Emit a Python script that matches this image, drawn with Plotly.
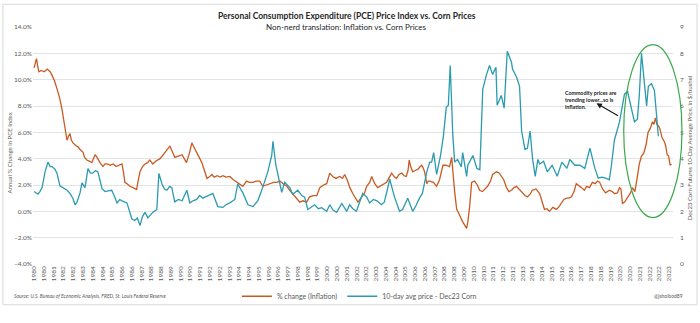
import plotly.graph_objects as go

# Year-over-year % change in the PCE price index (decimal year, %)
pce_years = [
    1980.00, 1980.08, 1980.17, 1980.25, 1980.33, 1980.50, 1980.70, 1980.90, 1981.10, 1981.20,
    1981.40, 1981.57, 1981.75, 1981.90, 1982.10, 1982.25, 1982.35, 1982.45, 1982.55, 1982.66,
    1982.85, 1983.00, 1983.14, 1983.34, 1983.45, 1983.60, 1983.80, 1983.95, 1984.16, 1984.30,
    1984.50, 1984.70, 1984.85, 1985.00, 1985.20, 1985.40, 1985.60, 1985.86, 1986.00, 1986.10,
    1986.20, 1986.35, 1986.54, 1986.75, 1987.00, 1987.10, 1987.23, 1987.40, 1987.57, 1987.75,
    1987.90, 1988.10, 1988.30, 1988.60, 1988.90, 1989.10, 1989.27, 1989.45, 1989.60, 1989.85,
    1990.10, 1990.25, 1990.40, 1990.60, 1990.77, 1990.90, 1991.10, 1991.30, 1991.45, 1991.60,
    1991.80, 1991.95, 1992.13, 1992.30, 1992.50, 1992.70, 1992.90, 1993.10, 1993.36, 1993.60,
    1993.84, 1994.05, 1994.25, 1994.50, 1994.70, 1994.93, 1995.15, 1995.40, 1995.60, 1995.85,
    1996.10, 1996.35, 1996.56, 1996.77, 1997.00, 1997.25, 1997.45, 1997.65, 1997.90, 1998.13,
    1998.35, 1998.60, 1998.80, 1999.05, 1999.30, 1999.50, 1999.75, 1999.97, 2000.18, 2000.38,
    2000.60, 2000.86, 2001.05, 2001.20, 2001.40, 2001.55, 2001.75, 2001.95, 2002.10, 2002.36,
    2002.55, 2002.70, 2002.90, 2003.04, 2003.25, 2003.45, 2003.60, 2003.85, 2004.06, 2004.25,
    2004.40, 2004.60, 2004.74, 2004.90, 2005.10, 2005.25, 2005.40, 2005.52, 2005.60, 2005.70,
    2005.84, 2006.00, 2006.20, 2006.35, 2006.45, 2006.55, 2006.65, 2006.80, 2006.90, 2007.00,
    2007.25, 2007.47, 2007.67, 2007.90, 2008.10, 2008.35, 2008.50, 2008.70, 2008.84, 2009.04,
    2009.25, 2009.52, 2009.60, 2009.72, 2009.86, 2010.06, 2010.25, 2010.40, 2010.60, 2010.95,
    2011.15, 2011.29, 2011.56, 2011.75, 2011.90, 2012.05, 2012.24, 2012.40, 2012.58, 2012.75,
    2012.92, 2013.15, 2013.33, 2013.50, 2013.67, 2013.85, 2014.00, 2014.25, 2014.50, 2014.65,
    2014.83, 2015.00, 2015.17, 2015.40, 2015.65, 2015.85, 2016.00, 2016.15, 2016.33, 2016.50,
    2016.67, 2016.85, 2017.00, 2017.15, 2017.36, 2017.55, 2017.70, 2017.90, 2018.10, 2018.30,
    2018.45, 2018.60, 2018.79, 2019.00, 2019.26, 2019.45, 2019.60, 2019.80, 2019.95, 2020.05,
    2020.15, 2020.30, 2020.50, 2020.70, 2020.83, 2021.00, 2021.15, 2021.30, 2021.45, 2021.60,
    2021.75, 2021.90, 2022.05, 2022.20, 2022.30, 2022.40, 2022.50, 2022.60, 2022.70, 2022.85,
    2023.00, 2023.10, 2023.20, 2023.30, 2023.40, 2023.50,
]
pce_values = [
    10.9, 11.2, 11.6, 11.0, 10.6, 10.7, 10.6, 10.8, 10.6, 10.4,
    9.9, 9.3, 8.6, 7.8, 6.6, 5.4, 5.7, 5.9, 5.4, 5.2,
    5.0, 4.9, 4.7, 4.5, 4.1, 3.9, 3.8, 3.7, 4.3, 4.1,
    3.7, 3.4, 3.6, 3.6, 3.5, 3.6, 3.4, 3.5, 3.6, 3.0,
    2.2, 2.1, 1.9, 1.8, 1.65, 2.3, 3.0, 3.4, 3.6, 3.7,
    3.9, 3.6, 3.8, 4.0, 4.4, 4.7, 4.95, 4.5, 4.1, 4.2,
    4.3, 4.0, 3.7, 4.4, 5.2, 4.9, 4.5, 4.1, 3.7, 3.2,
    2.5, 2.6, 2.8, 2.6, 2.7, 2.6, 2.7, 2.6, 2.65, 2.4,
    2.2, 2.0, 1.9, 2.3, 2.2, 2.2, 2.3, 2.3, 1.9, 2.0,
    2.1, 2.2, 2.2, 2.3, 2.1, 1.9, 1.6, 1.35, 1.0, 0.7,
    0.8, 0.7, 1.1, 1.2, 1.2, 1.8, 2.0, 2.1, 2.9, 2.65,
    2.5, 2.65, 2.5, 2.8, 2.3, 1.8, 1.35, 1.0, 0.7, 1.1,
    1.4, 1.9, 2.2, 2.65, 2.1, 1.8, 1.9, 2.0, 2.2, 2.6,
    2.9, 2.6, 2.5, 2.8, 2.9, 2.7, 2.65, 3.1, 3.9, 3.4,
    3.0, 3.1, 3.2, 3.4, 3.5, 3.3, 3.0, 2.1, 2.3, 2.3,
    2.2, 1.9, 2.4, 3.5, 3.5, 3.4, 4.1, 1.5, 0.15, -0.3,
    -0.8, -1.3, -0.8, 0.3, 2.2, 2.3, 2.0, 1.6, 1.5, 1.9,
    2.3, 2.8, 3.0, 2.9, 2.65, 2.4, 1.8, 1.5, 1.6, 1.8,
    1.9, 1.6, 1.45, 1.2, 1.1, 1.3, 1.6, 1.7, 1.35, 0.8,
    0.15, 0.2, 0.0, 0.3, 0.15, 0.4, 0.7, 0.9, 1.0, 1.0,
    1.1, 1.5, 2.1, 2.0, 1.8, 1.6, 1.9, 1.8, 2.2, 2.1,
    2.3, 2.2, 1.7, 1.4, 1.6, 1.5, 1.35, 1.4, 1.8, 1.7,
    0.6, 0.7, 1.1, 1.4, 1.8, 1.5, 2.5, 3.6, 4.2, 4.4,
    5.0, 6.0, 6.3, 6.8, 6.6, 7.1, 6.6, 6.5, 6.3, 5.6,
    5.3, 5.0, 4.3, 4.2, 3.5, 3.6,
]

# 10-day average price of Dec23 corn futures ($/bushel)
corn_years = [
    1980.00, 1980.07, 1980.27, 1980.40, 1980.55, 1980.75, 1980.95, 1981.10, 1981.23, 1981.43,
    1981.57, 1981.77, 1981.98, 1982.25, 1982.45, 1982.65, 1982.80, 1982.93, 1983.14, 1983.27,
    1983.48, 1983.68, 1983.85, 1984.00, 1984.20, 1984.36, 1984.64, 1984.85, 1985.05, 1985.30,
    1985.50, 1985.66, 1985.85, 1986.00, 1986.34, 1986.50, 1986.68, 1986.88, 1987.05, 1987.23,
    1987.40, 1987.57, 1987.77, 1988.10, 1988.38, 1988.52, 1988.73, 1988.90, 1989.07, 1989.25,
    1989.40, 1989.60, 1989.85, 1990.10, 1990.43, 1990.63, 1990.85, 1991.10, 1991.30, 1991.52,
    1991.86, 1992.20, 1992.54, 1992.88, 1993.10, 1993.36, 1993.70, 1993.90, 1994.25, 1994.60,
    1994.93, 1995.27, 1995.60, 1995.95, 1996.22, 1996.30, 1996.50, 1996.63, 1996.90, 1997.10,
    1997.45, 1997.65, 1998.00, 1998.27, 1998.47, 1998.68, 1998.90, 1999.15, 1999.40, 1999.63,
    1999.97, 2000.18, 2000.40, 2000.65, 2001.00, 2001.34, 2001.54, 2001.75, 2002.00, 2002.20,
    2002.43, 2002.70, 2002.90, 2003.15, 2003.40, 2003.70, 2003.90, 2004.10, 2004.27, 2004.60,
    2004.94, 2005.15, 2005.50, 2005.84, 2006.05, 2006.30, 2006.50, 2006.80, 2007.00, 2007.13,
    2007.27, 2007.47, 2007.73, 2007.93, 2008.13, 2008.27, 2008.40, 2008.50, 2008.57, 2008.70,
    2008.90, 2009.15, 2009.25, 2009.52, 2009.60, 2009.95, 2010.22, 2010.42, 2010.55, 2010.62,
    2010.88, 2011.08, 2011.29, 2011.52, 2011.60, 2011.88, 2012.08, 2012.29, 2012.58, 2012.65,
    2012.92, 2013.13, 2013.27, 2013.50, 2013.67, 2013.85, 2014.02, 2014.20, 2014.38, 2014.50,
    2014.77, 2015.02, 2015.35, 2015.70, 2016.02, 2016.36, 2016.56, 2016.90, 2017.25, 2017.58,
    2017.93, 2018.27, 2018.50, 2018.75, 2019.05, 2019.25, 2019.40, 2019.60, 2019.95, 2020.29,
    2020.50, 2020.77, 2020.97, 2021.17, 2021.30, 2021.45, 2021.52, 2021.80, 2021.92, 2022.13,
    2022.20, 2022.33, 2022.47, 2022.60, 2022.80, 2023.00, 2023.20, 2023.42, 2023.56,
]
corn_values = [
    2.75, 2.72, 2.65, 2.75, 2.90, 3.50, 3.87, 3.70, 3.70, 3.60,
    3.44, 2.97, 2.90, 2.80, 2.68, 2.50, 2.25, 2.35, 2.70, 3.08,
    2.90, 3.62, 3.45, 3.45, 3.55, 3.50, 2.86, 2.75, 2.78, 2.80,
    2.55, 2.32, 2.45, 2.40, 2.32, 2.05, 1.71, 1.65, 1.75, 1.46,
    1.80, 1.96, 1.75, 1.96, 2.07, 3.44, 3.04, 2.85, 2.80, 2.95,
    2.90, 2.36, 2.45, 2.40, 2.80, 2.32, 2.40, 2.45, 2.60, 2.50,
    2.60, 2.68, 2.18, 2.15, 2.25, 2.32, 2.45, 3.04, 2.70, 2.25,
    2.18, 2.40, 2.90, 3.50, 4.12, 4.66, 3.76, 3.40, 2.72, 3.10,
    2.90, 2.65, 2.80, 2.60, 2.54, 2.07, 2.15, 2.25, 2.10, 2.14,
    2.00, 2.25, 2.05, 1.96, 2.30, 2.00, 2.25, 2.10, 2.00, 2.30,
    2.68, 2.55, 2.32, 2.45, 2.40, 2.25, 2.35, 2.80, 3.22, 2.54,
    2.00, 2.07, 2.50, 2.00, 2.20, 2.50, 2.68, 3.50, 3.87, 3.87,
    4.23, 3.40, 4.10, 4.84, 5.95, 6.03, 7.54, 6.03, 4.95, 3.87,
    3.97, 3.69, 4.23, 3.33, 3.75, 4.12, 3.63, 3.58, 5.55, 6.64,
    7.20, 7.54, 7.20, 7.47, 6.03, 6.40, 5.92, 8.08, 7.66, 7.40,
    7.10, 6.75, 5.05, 4.35, 4.40, 5.05, 3.97, 3.33, 3.97, 3.80,
    3.90, 3.50, 3.75, 3.33, 3.87, 3.63, 3.97, 3.75, 3.75, 3.63,
    4.40, 3.63, 3.26, 3.30, 3.25, 3.20, 3.75, 4.70, 5.40, 6.45,
    6.55, 5.90, 5.40, 5.50, 6.40, 8.00, 7.60, 6.00, 6.75, 6.85,
    6.75, 6.60, 5.70, 4.85,
]
corn_years = corn_years[:len(corn_values)]

# Category labels shown every eight months along the time axis
tick_labels = [
    "1980", "1980", "1981", "1982", "1982", "1983", "1984", "1984", "1985", "1986",
    "1986", "1987", "1988", "1988", "1989", "1990", "1990", "1991", "1992", "1992",
    "1993", "1994", "1994", "1995", "1996", "1996", "1997", "1998", "1998", "1999",
    "2000", "2000", "2001", "2002", "2002", "2003", "2004", "2004", "2005", "2006",
    "2006", "2007", "2008", "2008", "2009", "2010", "2010", "2011", "2012", "2012",
    "2013", "2014", "2014", "2015", "2016", "2016", "2017", "2018", "2018", "2019",
    "2020", "2020", "2021", "2022", "2022", "2023",
]
tick_positions = [1980 + 8 * k / 12 for k in range(len(tick_labels))]

ORANGE = "#c95b22"
TEAL = "#2a9bb0"
GRID = "#e3e3e3"
TEXT = "#595959"
FONT = "Lato, 'Liberation Sans', sans-serif"

fig = go.Figure()
fig.add_trace(go.Scatter(
    x=pce_years, y=pce_values, mode="lines", name="% change (Inflation)",
    line=dict(color=ORANGE, width=1.3), yaxis="y",
))
fig.add_trace(go.Scatter(
    x=corn_years, y=corn_values, mode="lines", name="10-day avg price - Dec23 Corn",
    line=dict(color=TEAL, width=1.3), yaxis="y2",
))

fig.update_layout(
    width=700, height=323,
    margin=dict(l=33, r=27, t=27, b=46),
    paper_bgcolor="white", plot_bgcolor="white",
    font=dict(family=FONT, size=7, color=TEXT),
    showlegend=True,
    legend=dict(
        orientation="h", x=0.51, xanchor="center", y=-0.136, yanchor="middle",
        font=dict(size=7, color=TEXT), itemwidth=30, bgcolor="rgba(0,0,0,0)",
        tracegroupgap=0,
    ),
    xaxis=dict(
        range=[1979.93, 2023.6], tickmode="array", tickvals=tick_positions,
        ticktext=tick_labels, tickangle=-90, showgrid=False, zeroline=False,
        showline=False, ticks="", tickfont=dict(size=6.5, color=TEXT),
    ),
    yaxis=dict(
        range=[-4, 14], dtick=2, tickformat=".1f", ticksuffix="%",
        showgrid=True, gridcolor=GRID, gridwidth=1, zeroline=False, ticks="",
        tickfont=dict(size=6.5, color=TEXT),
    ),
    yaxis2=dict(
        range=[0, 9], dtick=1, overlaying="y", side="right", showgrid=False,
        zeroline=False, ticks="", ticklabelstandoff=6,
        tickfont=dict(size=6.5, color=TEXT),
    ),
)

# Titles, axis titles, source and handle
fig.add_annotation(
    text="<b>Personal Consumption Expenditure (PCE) Price Index vs. Corn Prices</b>",
    xref="paper", yref="paper", x=0.49, y=1.048, showarrow=False,
    font=dict(size=8.5, color="#262626"), xanchor="center", yanchor="middle",
)
fig.add_annotation(
    text="Non-nerd translation: Inflation vs. Corn Prices",
    xref="paper", yref="paper", x=0.49, y=1.0, showarrow=False,
    font=dict(size=8, color="#262626"), xanchor="center", yanchor="middle",
    bgcolor="white",
)
fig.add_annotation(
    text="Annual % Change in PCE Index", textangle=-90,
    xref="paper", yref="paper", x=-0.036, y=0.47, showarrow=False,
    font=dict(size=6, color=TEXT), xanchor="center", yanchor="middle",
)
fig.add_annotation(
    text="Dec23 Corn Futures 10-Day Average Price, in $/bushel", textangle=-90,
    xref="paper", yref="paper", x=1.027, y=0.49, showarrow=False,
    font=dict(size=6, color=TEXT), xanchor="center", yanchor="middle",
)
fig.add_annotation(
    text="<i>Source: U.S. Bureau of Economic Analysis, FRED, St. Louis Federal Reserve</i>",
    xref="paper", yref="paper", x=-0.033, y=-0.136, showarrow=False,
    font=dict(size=5, color=TEXT), xanchor="left", yanchor="middle",
)
fig.add_annotation(
    text="@jsholbod89",
    xref="paper", yref="paper", x=1.019, y=-0.136, showarrow=False,
    font=dict(size=5, color=TEXT), xanchor="right", yanchor="middle",
)

# Call-out text with arrow
fig.add_annotation(
    text="<b>Commodity prices are<br>trending lower...so is<br>inflation.</b>",
    xref="x", yref="y", x=2016.06, y=9.4, showarrow=False, align="left",
    font=dict(size=5.3, color="#1a1a1a"), xanchor="left", yanchor="top",
)
fig.add_annotation(
    text="", xref="x", yref="y", x=2018.38, y=8.2,
    axref="x", ayref="y", ax=2019.95, ay=7.2,
    showarrow=True, arrowhead=2, arrowsize=0.9, arrowwidth=1.2, arrowcolor="#1a1a1a",
)

# Green ellipse highlighting the recent period
fig.add_shape(
    type="circle", xref="paper", yref="paper",
    x0=0.923, x1=1.014, y0=0.196, y1=0.926,
    line=dict(color="#3aa84a", width=1.2), layer="above",
)

# Light frame around the chart
fig.add_shape(
    type="rect", xref="paper", yref="paper",
    x0=-0.047, x1=1.0375, y0=-0.172, y1=1.096,
    line=dict(color="#d9d9d9", width=1),
)

fig.write_html("out.html")
